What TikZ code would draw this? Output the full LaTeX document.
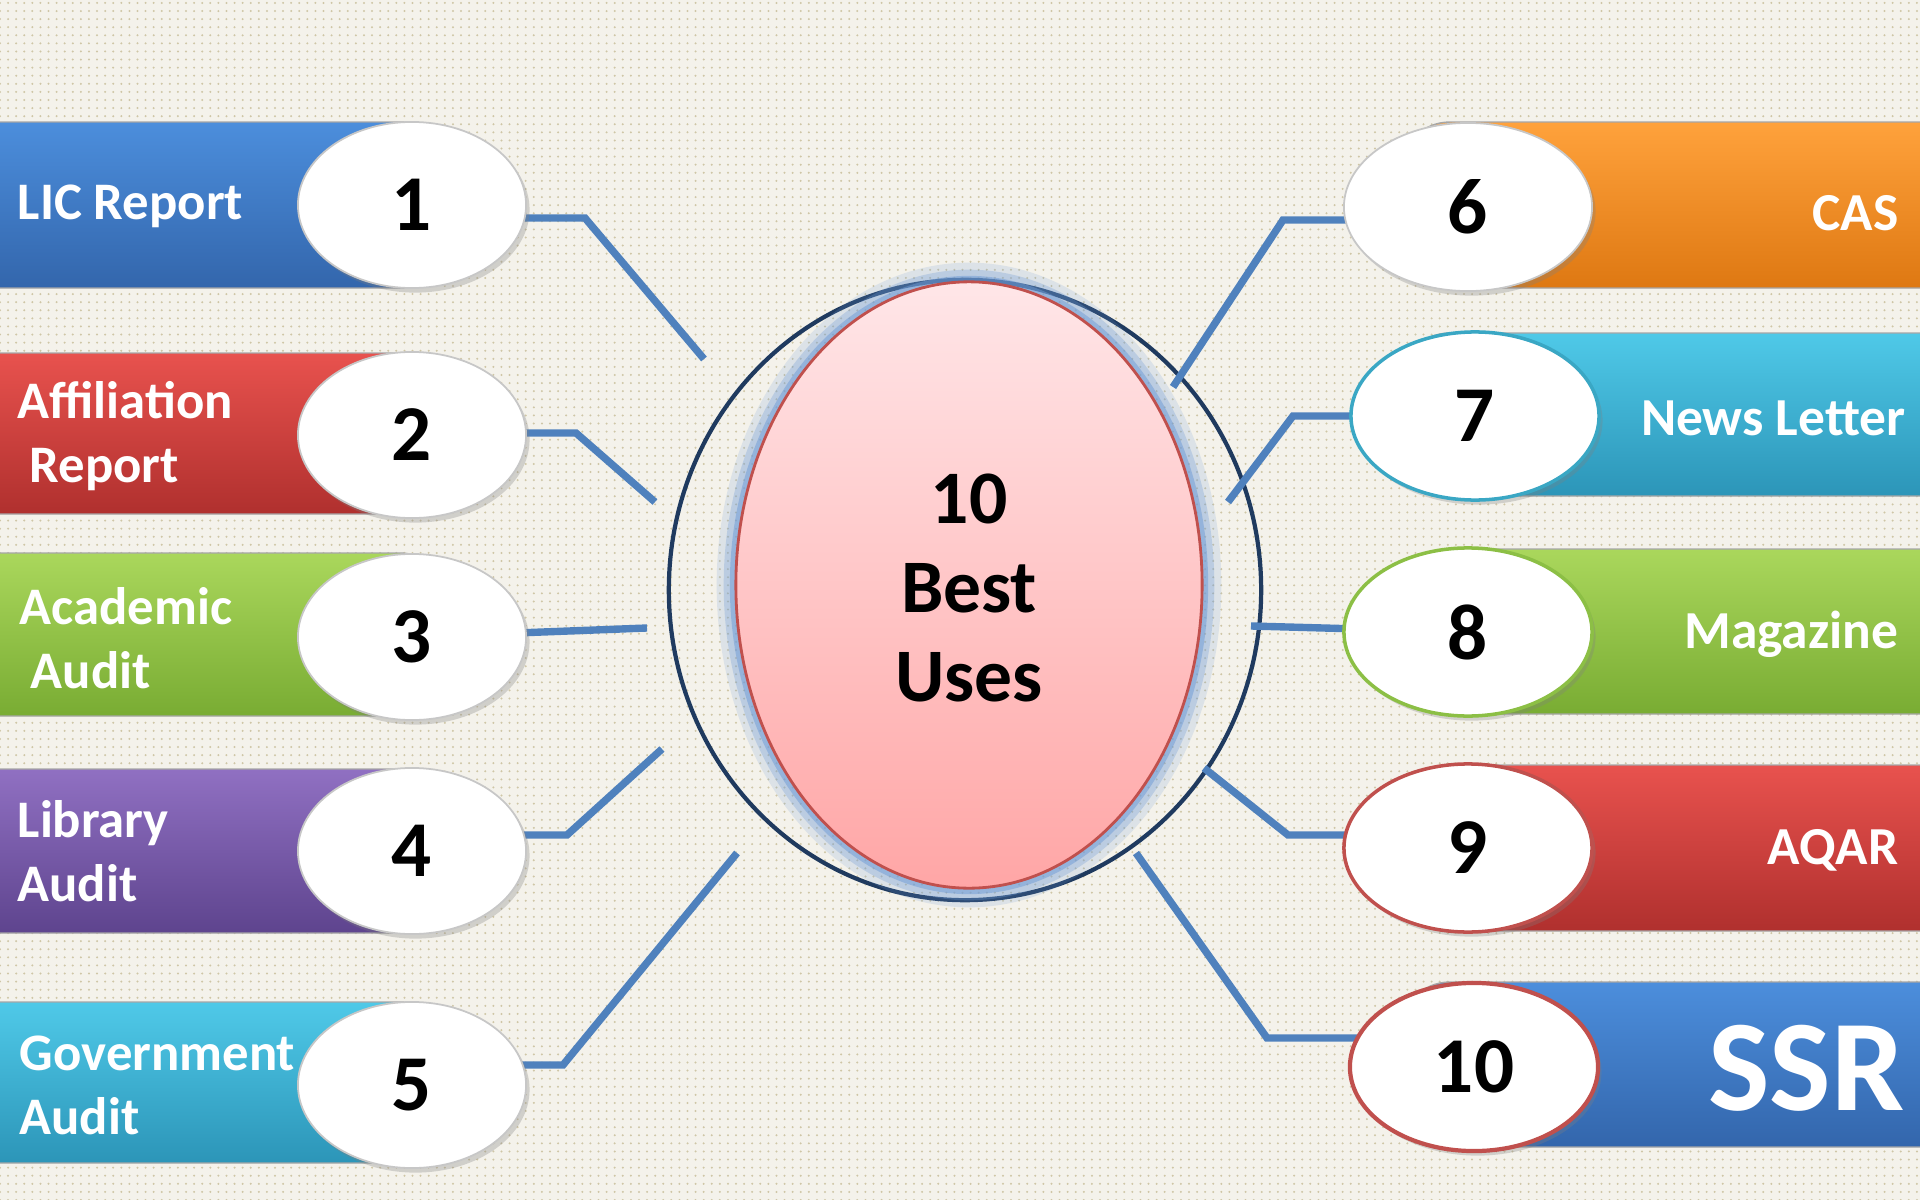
\documentclass[tikz,border=0pt]{standalone}
\usepackage{fontspec}
\setmainfont{Carlito}
\usetikzlibrary{shapes.geometric,shadows,patterns.meta}
\definecolor{bg}{HTML}{F4F2EB}
\definecolor{dotc}{HTML}{CFC6A6}
\definecolor{conncol}{HTML}{4F81BD}
\definecolor{glowc}{HTML}{6F9BD6}
\definecolor{navy}{HTML}{1F3A5F}
\definecolor{blueT}{HTML}{4C8EDC}\definecolor{blueB}{HTML}{3366AC}
\definecolor{redT}{HTML}{E8524E}\definecolor{redB}{HTML}{B0302E}
\definecolor{greenT}{HTML}{AAD75C}\definecolor{greenB}{HTML}{79AC33}
\definecolor{purpT}{HTML}{9070C2}\definecolor{purpB}{HTML}{5E448E}
\definecolor{cyanT}{HTML}{4FC9E8}\definecolor{cyanB}{HTML}{2C95B8}
\definecolor{oranT}{HTML}{FFA23C}\definecolor{oranB}{HTML}{DE7812}
\definecolor{pinkT}{HTML}{FFE6E8}\definecolor{pinkB}{HTML}{FFA6A6}
\definecolor{redline}{HTML}{C0504D}
\definecolor{tealline}{HTML}{3AA7C4}
\definecolor{greenline}{HTML}{8CBF45}
\begin{document}
\begin{tikzpicture}[x=0.01cm,y=-0.01cm,
  bar/.style={rounded corners=0.5cm, draw=black!35, line width=0.4pt},
  numell/.style={ellipse, inner sep=0pt, draw=black!22, line width=0.5pt,
     fill=white,
     drop shadow={shadow xshift=1pt, shadow yshift=-1.3pt, opacity=0.3},
     font=\fontsize{22.5}{24}\selectfont\bfseries},
  lell/.style={numell, minimum width=2.28cm, minimum height=1.66cm},
  rell/.style={numell, minimum width=2.48cm, minimum height=1.68cm},
  lab/.style={text=white, font=\fontsize{15}{18.2}\selectfont\bfseries, align=left, inner sep=0pt},
  rlab/.style={text=white, font=\fontsize{15.2}{18}\selectfont\bfseries, inner sep=0pt, anchor=east},
  conn/.style={draw=conncol, line width=2.1pt}
]
\useasboundingbox (0,0) rectangle (1920,1200);
% background
\fill[bg] (0,0) rectangle (1920,1200);
\fill[pattern={Dots[distance=2.3pt, radius=0.32pt]}, pattern color=dotc] (0,0) rectangle (1920,1200);

% left bars
\shade[bar, top color=blueT, bottom color=blueB] (-80,122) rectangle (450,288);
\shade[bar, top color=redT, bottom color=redB] (-80,353) rectangle (450,514);
\shade[bar, top color=greenT, bottom color=greenB] (-80,553) rectangle (450,716);
\shade[bar, top color=purpT, bottom color=purpB] (-80,769) rectangle (450,933);
\shade[bar, top color=cyanT, bottom color=cyanB] (-80,1002) rectangle (450,1163);
% right bars
\shade[bar, top color=oranT, bottom color=oranB] (1400,122) rectangle (2000,288);
\shade[bar, top color=cyanT, bottom color=cyanB] (1400,333) rectangle (2000,496);
\shade[bar, top color=greenT, bottom color=greenB] (1400,549) rectangle (2000,714);
\shade[bar, top color=redT, bottom color=redB] (1400,765) rectangle (2000,931);
\shade[bar, top color=blueT, bottom color=blueB] (1400,982) rectangle (2000,1147);

% labels
\node[lab, anchor=west] (l1) at (17,206) {LIC Report};
\node[lab, anchor=west] (l2) at (17,436) {Affiliation\\\hspace*{3.4pt}Report};
\node[lab, anchor=west] (l3) at (19,638) {Academic\\\hspace*{3.2pt}Audit};
\node[lab, anchor=west] (l4) at (17,851) {Library\\Audit};
\node[lab, anchor=west] (l5) at (19,1085) {Government\\Audit};
\node[rlab] (r6) at (1899,213) {CAS};
\node[rlab] (r7) at (1906,418) {News Letter};
\node[rlab] (r8) at (1899,634) {Magazine};
\node[rlab] (r9) at (1899,850) {AQAR};
\node[rlab, font=\fontsize{37}{40}\selectfont\bfseries] (r10) at (1905,1068) {SSR};

% central shapes
\node[ellipse, draw=navy, line width=1.2pt, minimum width=5.92cm, minimum height=6.2cm, inner sep=0pt] (outer) at (965,590) {};
\foreach \w/\o in {11/0.18,7/0.3,3.5/0.5}
  \draw[glowc, line width=\w pt, opacity=\o] (969,585) ellipse [x radius=233, y radius=303];
\node[ellipse, draw=redline, line width=0.8pt, top color=pinkT, bottom color=pinkB,
  minimum width=4.66cm, minimum height=6.06cm, inner sep=0pt] (core) at (969,585) {};
\node[font=\fontsize{21.5}{25.3}\selectfont\bfseries, align=center] (title) at (969,588) {10\\Best\\Uses};

% connector coordinates
\coordinate (b1) at (585,218); \coordinate (c1) at (704,359);
\coordinate (b2) at (576,433); \coordinate (c2) at (655,502);
\coordinate (c3) at (647,628);
\coordinate (b4) at (567,835); \coordinate (c4) at (662,749);
\coordinate (b5) at (563,1065); \coordinate (c5) at (737,853);
\coordinate (b6) at (1283,220); \coordinate (c6) at (1173,387);
\coordinate (b7) at (1293,416); \coordinate (c7) at (1228,502);
\coordinate (c8) at (1251,626);
\coordinate (b9) at (1288,835); \coordinate (c9) at (1204,768);
\coordinate (b10) at (1267,1038); \coordinate (c10) at (1136,853);

% number ellipses positions
\coordinate (p1) at (412,205); \coordinate (p2) at (412,435);
\coordinate (p3) at (412,637); \coordinate (p4) at (412,851);
\coordinate (p5) at (412,1085);
\coordinate (p6) at (1468,207); \coordinate (p7) at (1475,416);
\coordinate (p8) at (1468,632); \coordinate (p9) at (1468,848);
\coordinate (p10) at (1474,1067);

% connectors (drawn under the ellipses)
\draw[conn] (p1 |- b1) -- (b1) -- (c1);
\draw[conn] (p2 |- b2) -- (b2) -- (c2);
\draw[conn] (p3) -- (c3);
\draw[conn] (p4 |- b4) -- (b4) -- (c4);
\draw[conn] (p5 |- b5) -- (b5) -- (c5);
\draw[conn] (p6 |- b6) -- (b6) -- (c6);
\draw[conn] (p7 |- b7) -- (b7) -- (c7);
\draw[conn] (p8) -- (c8);
\draw[conn] (p9 |- b9) -- (b9) -- (c9);
\draw[conn] (p10 |- b10) -- (b10) -- (c10);

% number ellipses
\node[lell] (e1) at (p1) {1};
\node[lell] (e2) at (p2) {2};
\node[lell] (e3) at (p3) {3};
\node[lell] (e4) at (p4) {4};
\node[lell] (e5) at (p5) {5};
\node[rell] (e6) at (p6) {6};
\node[rell, draw=tealline, line width=1pt] (e7) at (p7) {7};
\node[rell, draw=greenline, line width=1pt] (e8) at (p8) {8};
\node[rell, draw=redline, line width=1pt] (e9) at (p9) {9};
\node[rell, draw=redline, line width=1.2pt] (e10) at (p10) {10};
\end{tikzpicture}
\end{document}
